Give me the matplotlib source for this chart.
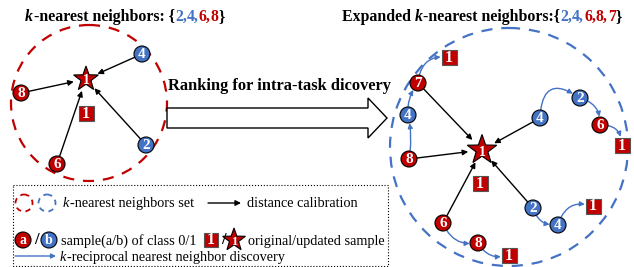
import numpy as np
import matplotlib.pyplot as plt
from matplotlib.patches import Circle, Rectangle, Polygon, FancyArrowPatch, FancyArrow

RED = '#C00000'
BLUE = '#4472C4'
SERIF = 'Liberation Serif'

# left panel: k-nearest neighbors of sample 1
left_labels = ['4', '8', '6', '2']
left_class = [1, 0, 0, 1]
left_x = [142, 21, 57, 146]
left_y = [54, 93, 164, 145]

# right panel: expanded neighbours
right_labels = ['7', '4', '4', '2', '6', '8', '6', '8', '2', '4']
right_class = [0, 1, 1, 1, 0, 0, 0, 0, 1, 1]
right_x = [418, 408, 540, 580, 600, 409, 443, 478, 533, 558]
right_y = [83, 115, 118, 98, 125, 159, 223, 243, 208, 225]
# squares "1" reached by reciprocal discovery
sq_x = [449, 622, 509, 593]
sq_y = [57, 145, 255, 206]
# black arrows (distance calibration) into the star
right_to_star = [0, 2, 5, 6, 8]
# blue arrows: (from node, to node, curvature) ; 's0'.. = squares
blue_links = [(5, 1, 0.1), (1, 0, -0.2), (0, 's0', -0.5), (2, 3, -0.9), (3, 4, -0.4),
              (4, 's1', -0.5), (8, 9, 0.4), (9, 's3', -0.5), (6, 7, 0.4), (7, 's2', 0.4)]

fig = plt.figure(figsize=(6.34, 2.67), dpi=100)
ax = fig.add_axes([0, 0, 1, 1])
ax.set_xlim(0, 634)
ax.set_ylim(267, 0)
ax.axis('off')
renderer = fig.canvas.get_renderer()


def node(x, y, label, cls, r=8):
    ax.add_patch(Circle((x, y), r, fc=RED if cls == 0 else BLUE, ec='black', lw=0.8, zorder=4))
    ax.text(x, y + 0.5, label, color='white', fontsize=11, fontweight='bold', family=SERIF,
            ha='center', va='center', zorder=5)


def square(x, y, s=15):
    ax.add_patch(Rectangle((x - s / 2, y - s / 2), s, s, fc=RED, ec='#555555', lw=0.8, zorder=4))
    ax.text(x, y + 0.5, '1', color='white', fontsize=11.5, fontweight='bold', family=SERIF,
            ha='center', va='center', zorder=5)


def star(x, y, R=13, fs=10):
    ang = -np.pi / 2 + np.arange(10) * np.pi / 5
    rad = np.where(np.arange(10) % 2 == 0, R, R * 0.4)
    pts = np.column_stack([x + rad * np.cos(ang), y + rad * np.sin(ang)])
    ax.add_patch(Polygon(pts, closed=True, fc=RED, ec='black', lw=0.8, zorder=4))
    ax.text(x, y + 2, '1', color='white', fontsize=fs, fontweight='bold', family=SERIF,
            ha='center', va='center', zorder=5)


def arrow(p, q, color='black', sa=6, sb=6, rad=0.0, lw=1.0, ms=8):
    ax.add_patch(FancyArrowPatch(p, q, arrowstyle='-|>', color=color, lw=lw,
                                 mutation_scale=ms, shrinkA=sa, shrinkB=sb,
                                 connectionstyle=f'arc3,rad={rad}', zorder=3))


def text_width(s, size, weight):
    t = ax.text(0, 0, s, fontsize=size, fontweight=weight, family=SERIF)
    w = t.get_window_extent(renderer).width
    t.remove()
    return w


def rich(x, y, parts, size, weight='bold', x_end=None):
    # pieces on one baseline, offsets from the width of the whole prefix
    ref = text_width('I', size, weight)
    if x_end is not None:
        x = x_end - text_width(''.join(p[0] for p in parts), size, weight)
    prefix = ''
    for s, c, st in parts:
        dx = text_width(prefix + 'I', size, weight) - ref if prefix else 0
        ax.text(x + dx, y, s, color=c, fontsize=size, fontweight=weight, family=SERIF,
                style=st, va='baseline', ha='left')
        prefix += s


# ---- left panel ----
ax.add_patch(Circle((89, 103), 78, fill=False, ec=RED, lw=1.6, ls=(0, (5, 4))))
star(86, 79, R=13)
square(86, 113)
for lab, c, x, y in zip(left_labels, left_class, left_x, left_y):
    node(x, y, lab, c)
    arrow((x, y), (86, 79), sa=6, sb=9)

rich(25, 21, [('k', 'black', 'italic'), ('-nearest neighbors: {', 'black', 'normal'),
              ('2,', BLUE, 'normal'), ('4,', BLUE, 'normal'), ('6,', RED, 'normal'),
              ('8', RED, 'normal'), ('}', 'black', 'normal')], 11.4)

# ---- big arrow ----
ax.add_patch(FancyArrow(167, 118, 220, 0, width=20, head_width=40, head_length=19,
                        length_includes_head=True, fc='white', ec='black', lw=1.0))
ax.text(168, 86, 'Ranking for intra-task dicovery', fontsize=11.8, fontweight='bold',
        family=SERIF, va='center', ha='left')

# ---- right panel ----
ax.add_patch(Circle((509, 147), 119, fill=False, ec=BLUE, lw=1.6, ls=(0, (5, 4))))
star(482, 150, R=15.5)
square(480, 183)
for lab, c, x, y in zip(right_labels, right_class, right_x, right_y):
    node(x, y, lab, c)
for sx, sy in zip(sq_x, sq_y):
    square(sx, sy)
for i in right_to_star:
    arrow((right_x[i], right_y[i]), (482, 150), sa=6, sb=10)


def pos(k):
    if isinstance(k, str):
        j = int(k[1:])
        return (sq_x[j], sq_y[j])
    return (right_x[k], right_y[k])


for a, b, rad in blue_links:
    arrow(pos(a), pos(b), color=BLUE, sa=6, sb=6, rad=rad, lw=1.0, ms=7)

rich(0, 21, [('Expanded ', 'black', 'normal'), ('k', 'black', 'italic'),
             ('-nearest neighbors:{', 'black', 'normal'), ('2,', BLUE, 'normal'),
             ('4,', BLUE, 'normal'), ('6,', RED, 'normal'), ('8,', RED, 'normal'),
             ('7', RED, 'normal'), ('}', 'black', 'normal')], 11.4, x_end=622)

# ---- legend ----
LFS = 10.3
ax.add_patch(Rectangle((13, 185), 375, 81, fill=False, ec='black', lw=0.8, ls=':'))
ax.add_patch(Circle((24, 203), 8.5, fill=False, ec=RED, lw=1.3, ls=(0, (3, 2.5))))
ax.add_patch(Circle((47, 203), 8.5, fill=False, ec=BLUE, lw=1.3, ls=(0, (3, 2.5))))
rich(63, 207, [('k', 'black', 'italic'), ('-nearest neighbors set', 'black', 'normal')],
     LFS, weight='normal')
arrow((208, 203), (241, 203), sa=0, sb=0)
ax.text(247, 207, 'distance calibration', fontsize=LFS, family=SERIF, va='baseline')

ax.add_patch(Circle((23, 240), 8, fc=RED, ec='black', lw=0.8))
ax.text(23, 240.5, 'a', color='white', fontsize=10, fontweight='bold', family=SERIF,
        ha='center', va='center')
ax.text(36, 240, '/', fontsize=12, fontweight='bold', family=SERIF, ha='center', va='center')
ax.add_patch(Circle((49, 240), 8, fc=BLUE, ec='black', lw=0.8))
ax.text(49, 240.5, 'b', color='white', fontsize=10, fontweight='bold', family=SERIF,
        ha='center', va='center')
ax.text(61, 245, 'sample(a/b) of class 0/1', fontsize=LFS, family=SERIF, va='baseline')
square(211, 240, s=14)
ax.text(223, 240, '/', fontsize=12, fontweight='bold', family=SERIF, ha='center', va='center')
star(234, 240, R=12, fs=9)
ax.text(248, 245, 'original/updated sample', fontsize=LFS, family=SERIF, va='baseline')

arrow((15, 256), (56, 256), color=BLUE, sa=0, sb=0, ms=7)
rich(60, 261, [('k', 'black', 'italic'),
               ('-reciprocal nearest neighbor discovery', 'black', 'normal')],
     LFS, weight='normal')

fig.savefig('out.png', dpi=100)
